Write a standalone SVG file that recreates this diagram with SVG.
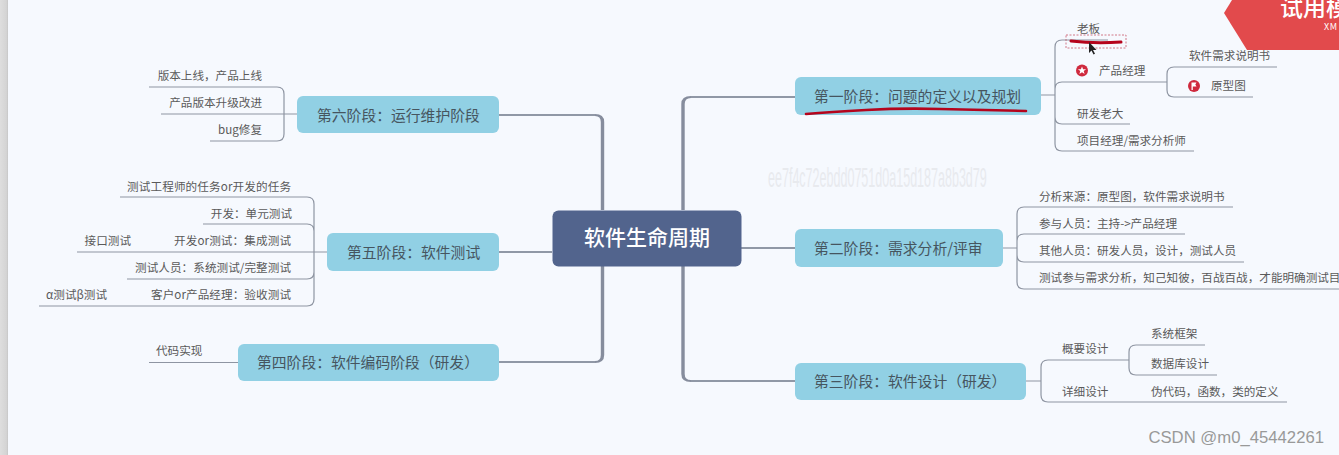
<svg xmlns="http://www.w3.org/2000/svg" width="1339" height="455" viewBox="0 0 1339 455">
<defs>
<style>
text{font-family:"Noto Sans CJK SC","Noto Sans","Liberation Sans",sans-serif}
.stage{fill:#91d0e4}
.st{font-size:14.8px;fill:#46555f}
.t{font-size:11.6px;fill:#5a5a5a}
.e{fill:none;stroke:#8e95a2;stroke-width:1.2}
.m{fill:#868d9d}
.h{fill:none;stroke:#9098a6;stroke-width:1.800}
.r{fill:none;stroke:#b5041c;stroke-linecap:round}
</style>
<linearGradient id="band" x1="0" x2="1" y1="0" y2="0"><stop offset="0" stop-color="#dedede"/><stop offset=".8" stop-color="#d4d4d4"/><stop offset="1" stop-color="#c6c6c6"/></linearGradient>
</defs>
<rect width="1339" height="455" fill="#f6f9fe"/>
<rect width="8" height="455" fill="url(#band)"/>
<text transform="translate(768 187) scale(.4475 1)" font-size="28" fill="#e8eaee" style="font-family:'Liberation Sans',sans-serif">ee7f4c72ebdd0751d0a15d187a8b3d79</text>
<g id="connectors">
<path class="h" d="M595 115H499M595 362H499M691 97H795M691 381H795"/>
<path class="m" d="M600.800 210V122Q600.800 116 595 116V114Q604.200 114 604.200 122V210Z"/>
<path class="m" d="M600.800 266V355Q600.800 361 595 361V363Q604.200 363 604.200 355V266Z"/>
<path class="m" d="M684.700 210V104Q684.700 98 691 98V96Q681.300 96 681.300 104V210Z"/>
<path class="m" d="M684.700 266V374Q684.700 380 691 380V382Q681.300 382 681.300 374V266Z"/>
<path class="h" d="M499 252H552"/>
<path class="h" d="M741 248H795"/>
<path class="e" d="M1041 95H1055M1108 40H1062Q1055 40 1055 47V144Q1055 151 1062 151H1194M1055 89Q1055 82 1062 82H1167M1055 117Q1055 124 1062 124H1130"/>
<path class="e" d="M1167 82V74Q1167 67 1174 67H1277M1167 82V90Q1167 97 1174 97H1253"/>
<path class="e" d="M1003 248H1017M1017 214Q1017 207 1024 207H1233M1017 214V282Q1017 289 1024 289H1339M1017 241Q1017 234 1024 234H1185M1017 255Q1017 262 1024 262H1244"/>
<path class="e" d="M1026 381H1041M1041 367V395Q1041 402 1048 402H1287M1041 367Q1041 360 1048 360H1129"/>
<path class="e" d="M1129 360V352Q1129 345 1136 345H1205M1129 360V368Q1129 375 1136 375H1217"/>
<path class="e" d="M297 114H161M149 87H277Q284 87 284 94V134Q284 141 277 141H210"/>
<path class="e" d="M327 252H77M120 197H307Q314 197 314 204V299Q314 306 307 306H39M203 224H307Q314 224 314 231M127 279H307Q314 279 314 272"/>
<path class="e" d="M238 362.500H149"/>
</g>
<g id="center"><rect x="552.500" y="210.500" width="189" height="56" rx="6" fill="#52648d"/><text x="647" y="245" font-size="21" font-weight="500" fill="#fff" text-anchor="middle">软件生命周期</text></g>
<g id="s1"><rect class="stage" x="795" y="77" width="246" height="38" rx="6"/><text class="st" x="814" y="101.500">第一阶段：问题的定义以及规划</text></g>
<g id="s2"><rect class="stage" x="795" y="229" width="208" height="38" rx="6"/><text class="st" x="814" y="253.500">第二阶段：需求分析/评审</text></g>
<g id="s3"><rect class="stage" x="795" y="363" width="231" height="37" rx="6"/><text class="st" x="814" y="386.500">第三阶段：软件设计（研发）</text></g>
<g id="s4"><rect class="stage" x="238" y="344" width="261" height="37" rx="6"/><text class="st" x="257" y="367.500">第四阶段：软件编码阶段（研发）</text></g>
<g id="s5"><rect class="stage" x="327" y="233" width="172" height="38" rx="6"/><text class="st" x="347" y="257.500">第五阶段：软件测试</text></g>
<g id="s6"><rect class="stage" x="297" y="96" width="202" height="37" rx="6"/><text class="st" x="317" y="120.500">第六阶段：运行维护阶段</text></g>
<g id="right-top">
<text class="t" x="1077" y="33">老板</text>
<text class="t" x="1099" y="75">产品经理</text>
<circle cx="1082" cy="70.500" r="6" fill="#cf2a3e"/><path d="M1082 66.500l1.100 2.800h3l-2.400 1.800.9 2.900-2.600-1.700-2.600 1.700.9-2.900-2.400-1.800h3z" fill="#fff"/>
<text class="t" x="1189" y="60">软件需求说明书</text>
<circle cx="1194" cy="86" r="6" fill="#cf2a3e"/><path d="M1191.500 90V82.500h5l-1.200 2 1.200 2h-3.700V90z" fill="#fff"/>
<text class="t" x="1211" y="90">原型图</text>
<text class="t" x="1077" y="118">研发老大</text>
<text class="t" x="1077" y="145">项目经理/需求分析师</text>
</g>
<g id="right-mid">
<text class="t" x="1039" y="201">分析来源：原型图，软件需求说明书</text>
<text class="t" x="1039" y="228">参与人员：主持-&gt;产品经理</text>
<text class="t" x="1039" y="255">其他人员：研发人员，设计，测试人员</text>
<text class="t" x="1039" y="282">测试参与需求分析，知己知彼，百战百战，才能明确测试目标</text>
</g>
<g id="right-bottom">
<text class="t" x="1062" y="353">概要设计</text>
<text class="t" x="1151" y="338">系统框架</text>
<text class="t" x="1151" y="368">数据库设计</text>
<text class="t" x="1062" y="396">详细设计</text>
<text class="t" x="1151" y="396">伪代码，函数，类的定义</text>
</g>
<g id="left-top" text-anchor="end">
<text class="t" x="262" y="80">版本上线，产品上线</text>
<text class="t" x="262" y="107">产品版本升级改进</text>
<text class="t" x="262" y="134">bug修复</text>
</g>
<g id="left-mid" text-anchor="end">
<text class="t" x="291" y="191" textLength="164">测试工程师的任务or开发的任务</text>
<text class="t" x="292" y="218">开发：单元测试</text>
<text class="t" x="291" y="245" textLength="117">开发or测试：集成测试</text>
<text class="t" x="131" y="245">接口测试</text>
<text class="t" x="291" y="272" textLength="156">测试人员：系统测试/完整测试</text>
<text class="t" x="291" y="299" textLength="140">客户or产品经理：验收测试</text>
<text class="t" x="107" y="299">α测试β测试</text>
</g>
<g id="left-bottom"><text class="t" x="156" y="355">代码实现</text></g>
<g id="annotations">
<rect x="1066" y="35" width="60" height="13" fill="none" stroke="#c9586a" stroke-width=".8" stroke-dasharray="2 1.500"/>
<path class="r" stroke-width="3" d="M1071 41Q1095 44 1121 42"/>
<path class="r" stroke-width="2.600" d="M806 114Q830 112 866 110T940 109T1026 111"/>
<path d="M1089 42v11l2.500-2.500 2 4 1.500-.8-2-3.800h3.500z" fill="#222"/>
</g>
<g id="banner"><path d="M1232 0H1339V50H1247L1224 13Z" fill="#e24a4c"/><text x="1280" y="16" font-size="23" font-weight="500" fill="#fff">试用模</text><text x="1324" y="30" font-size="9" letter-spacing=".5" fill="#fff">XM</text></g>
<text x="1324" y="443" font-size="16.700" fill="#999" text-anchor="end" style="font-family:'Liberation Sans',sans-serif">CSDN @m0_45442261</text>
</svg>
